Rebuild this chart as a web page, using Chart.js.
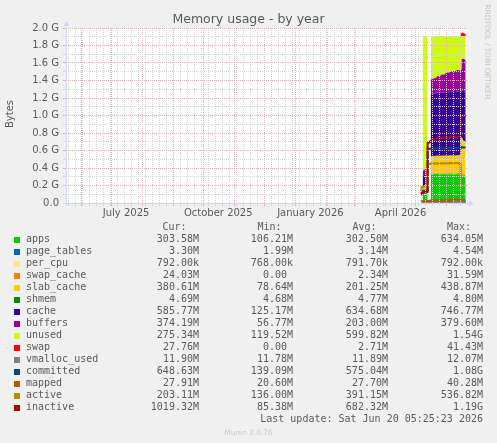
<!DOCTYPE html>
<html>
<head>
<meta charset="utf-8">
<script src="https://cdn.jsdelivr.net/npm/chart.js@4.4.1/dist/chart.umd.min.js"></script>
<style>
  html, body { margin: 0; padding: 0; background: #f0f0f0; }
  #wrap { position: relative; width: 497px; height: 443px; overflow: hidden; font-family: 'DejaVu Sans', sans-serif; color: #5a5a5a; }
  #chartBox { position: absolute; left: 0; top: 0; width: 497px; height: 222px; }
  .title { position: absolute; left: 0; top: 11px; width: 497px; text-align: center; font-size: 12.5px; line-height: 15px; }
  .vlabel { position: absolute; left: -20px; top: 107px; width: 60px; height: 14px; line-height: 14px; text-align: center; font-size: 10px; transform: rotate(-90deg); }
  .watermark { position: absolute; left: 437px; top: 47px; width: 100px; height: 10px; line-height: 10px; text-align: center; font-size: 7.4px; color: #c4c4c4; transform: rotate(90deg); white-space: nowrap; }
  .munin { position: absolute; left: 0; width: 497px; top: 428px; text-align: center; font-size: 7.4px; color: #cccccc; }
  .cell { position: absolute; white-space: pre; font-family: 'DejaVu Sans Mono', monospace; font-size: 10px; line-height: 12px; height: 12px; }
  .swatch { position: absolute; width: 6px; height: 6px; left: 14px; }
</style>
</head>
<body>
<div id="wrap">
  <div id="chartBox"><canvas id="memChart" width="497" height="222"></canvas></div>
  <div class="title">Memory usage - by year</div>
  <div class="vlabel">Bytes</div>
  <div class="watermark">RRDTOOL / TOBI OETIKER</div>
  <div id="legend"></div>
  <div class="munin">Munin 2.0.76</div>
</div>
<script>
// x = days since 2025-05-17, y = GiB
const days = [355, 356, 357, 358, 359, 360, 361, 362, 363, 364,
  365, 366, 367, 368, 369, 370, 371, 372, 373, 374,
  375, 376, 377, 378, 379, 380, 381, 382, 383, 384,
  385, 386, 387, 388, 389, 390, 391, 392, 393, 394,
  395, 396, 397, 398, 399];

// stacked areas
const apps = [null, 0.104, 0.105, 0.107, 0.109, 0.111, 0.114, null, null,
  0.325, 0.33, 0.33, 0.332, 0.33, 0.328, 0.33, 0.333, 0.33, 0.331,
  0.33, 0.329, 0.33, 0.332, 0.33, 0.33, 0.331, 0.33, 0.328, 0.33,
  0.332, 0.33, 0.33, 0.331, 0.33, 0.329, 0.33, 0.33, 0.331, 0.33, 0.326,
  0.305, 0.3, 0.298, 0.297, 0.2965];
const pageTables = [null, 0.0019, 0.002, 0.002, 0.0021, 0.0022, 0.0023, null, null,
  0.0031, 0.0031, 0.0032, 0.0032, 0.0032, 0.0033, 0.0033, 0.0033, 0.0033, 0.0033,
  0.0033, 0.0033, 0.0034, 0.0034, 0.0034, 0.0034, 0.0034, 0.0034, 0.0033, 0.0033,
  0.0033, 0.0033, 0.0033, 0.0034, 0.0034, 0.0034, 0.0033, 0.0033, 0.0033, 0.0033, 0.0033,
  0.0035, 0.0034, 0.0033, 0.0033, 0.0032];
const perCpu = [null, 0.00073, 0.00075, 0.00075, 0.00075, 0.00075, 0.00075, null, null,
  0.00076, 0.00076, 0.00076, 0.00076, 0.00076, 0.00076, 0.00076, 0.00076, 0.00076, 0.00076,
  0.00076, 0.00076, 0.00076, 0.00076, 0.00076, 0.00076, 0.00076, 0.00076, 0.00076, 0.00076,
  0.00076, 0.00076, 0.00076, 0.00076, 0.00076, 0.00076, 0.00076, 0.00076, 0.00076, 0.00076, 0.00076,
  0.00076, 0.00076, 0.00076, 0.00076, 0.00076];
const swapCache = [null, 0, 0, 0, 0, 0, 0, null, null,
  0, 0, 0, 0, 0, 0, 0, 0, 0, 0,
  0, 0, 0, 0, 0, 0, 0, 0, 0, 0,
  0, 0, 0, 0, 0, 0, 0, 0, 0, 0, 0,
  0.028, 0.031, 0.027, 0.025, 0.0235];
const slabCache = [null, 0.077, 0.078, 0.079, 0.081, 0.083, 0.085, null, null,
  0.195, 0.196, 0.198, 0.2, 0.199, 0.201, 0.2, 0.202, 0.203, 0.2,
  0.201, 0.203, 0.204, 0.202, 0.2, 0.203, 0.205, 0.204, 0.203, 0.206,
  0.205, 0.204, 0.206, 0.207, 0.205, 0.204, 0.206, 0.208, 0.207, 0.206, 0.22,
  0.42, 0.4, 0.38, 0.375, 0.3717];
const shmem = [null, 0.0046, 0.0046, 0.0046, 0.0046, 0.0046, 0.0046, null, null,
  0.0046, 0.0046, 0.0046, 0.0046, 0.0046, 0.0046, 0.0046, 0.0046, 0.0046, 0.0046,
  0.0046, 0.0046, 0.0046, 0.0046, 0.0046, 0.0046, 0.0046, 0.0046, 0.0046, 0.0046,
  0.0046, 0.0046, 0.0046, 0.0046, 0.0046, 0.0046, 0.0046, 0.0046, 0.0046, 0.0046, 0.0046,
  0.0046, 0.0046, 0.0046, 0.0046, 0.0046];
const cache = [null, 0.122, 0.124, 0.126, 0.128, 0.131, 0.134, null, null,
  0.712, 0.714, 0.716, 0.712, 0.71, 0.714, 0.717, 0.72, 0.718, 0.716,
  0.72, 0.722, 0.724, 0.72, 0.718, 0.721, 0.724, 0.727, 0.725, 0.722,
  0.726, 0.727, 0.729, 0.726, 0.724, 0.726, 0.728, 0.729, 0.727, 0.724, 0.716,
  0.5, 0.55, 0.565, 0.57, 0.572];
const buffers = [null, 0.055, 0.056, 0.058, 0.06, 0.062, 0.064, null, null,
  0.16, 0.163, 0.167, 0.17, 0.174, 0.177, 0.18, 0.184, 0.188, 0.192,
  0.195, 0.199, 0.203, 0.207, 0.211, 0.215, 0.219, 0.223, 0.225, 0.228,
  0.23, 0.232, 0.234, 0.236, 0.238, 0.24, 0.242, 0.244, 0.246, 0.248, 0.25,
  0.26, 0.355, 0.37, 0.368, 0.3654];
const unused = [null, 1.541, 1.536, 1.529, 1.521, 1.512, 1.502, null, null,
  0.506, 0.495, 0.487, 0.484, 0.485, 0.478, 0.471, 0.459, 0.459, 0.459,
  0.452, 0.445, 0.437, 0.437, 0.439, 0.429, 0.419, 0.414, 0.417, 0.412,
  0.405, 0.405, 0.399, 0.398, 0.401, 0.399, 0.392, 0.387, 0.387, 0.39, 0.386,
  0.385, 0.262, 0.258, 0.263, 0.2689];
const swap = [null, 0, 0, 0, 0, 0, 0, null, null,
  0, 0, 0, 0, 0, 0, 0, 0, 0, 0,
  0, 0, 0, 0, 0, 0, 0, 0, 0, 0,
  0, 0, 0, 0, 0, 0, 0, 0, 0, 0, 0,
  0.03, 0.0405, 0.035, 0.03, 0.0271];

// lines
const vmallocUsed = [0.0115, 0.0115, 0.0115, 0.0116, 0.0116, 0.0116, 0.0116, 0.0116, 0.0116,
  0.0116, 0.0116, 0.0116, 0.0116, 0.0116, 0.0116, 0.0116, 0.0116, 0.0116, 0.0116,
  0.0116, 0.0116, 0.0116, 0.0116, 0.0116, 0.0116, 0.0116, 0.0116, 0.0116, 0.0116,
  0.0116, 0.0116, 0.0116, 0.0116, 0.0116, 0.0116, 0.0116, 0.0117, 0.0117, 0.0117, 0.0117,
  0.0117, 0.0117, 0.0116, 0.0116, 0.0116];
const committed = [0.136, 0.137, 0.138, 0.139, 0.14, 0.141, 0.142, 0.62, 0.62,
  0.62, 0.621, 0.622, 0.62, 0.623, 0.624, 0.622, 0.625, 0.624, 0.623,
  0.625, 0.626, 0.624, 0.625, 0.626, 0.627, 0.625, 0.626, 0.627, 0.628,
  0.626, 0.627, 0.628, 0.627, 0.629, 0.628, 0.627, 0.629, 0.63, 0.628, 0.63,
  0.64, 0.635, 0.634, 0.633, 0.6334];
const mapped = [0.0201, 0.021, 0.021, 0.0212, 0.0213, 0.0215, 0.022, 0.025, 0.026,
  0.027, 0.027, 0.0272, 0.027, 0.0271, 0.0272, 0.027, 0.0271, 0.027, 0.0272,
  0.027, 0.0271, 0.0272, 0.027, 0.0271, 0.027, 0.0272, 0.027, 0.0271, 0.027,
  0.027, 0.038, 0.0385, 0.039, 0.0392, 0.0393, 0.039, 0.0388, 0.0386, 0.0385, 0.038,
  0.03, 0.028, 0.0275, 0.0273, 0.0273];
const active = [0.133, 0.18, 0.183, 0.185, 0.186, 0.187, 0.44, 0.445, 0.447,
  0.448, 0.45, 0.452, 0.45, 0.449, 0.451, 0.453, 0.452, 0.45, 0.451,
  0.453, 0.454, 0.452, 0.451, 0.453, 0.455, 0.454, 0.452, 0.453, 0.455,
  0.456, 0.454, 0.453, 0.455, 0.456, 0.455, 0.454, 0.456, 0.457, 0.455, 0.45,
  0.21, 0.2, 0.199, 0.198, 0.1983];
const inactive = [0.085, 0.115, 0.118, 0.12, 0.122, 0.125, 0.128, 0.69, 0.695,
  0.7, 0.708, 0.715, 0.72, 0.725, 0.73, 0.733, 0.736, 0.738, 0.74,
  0.742, 0.743, 0.745, 0.746, 0.747, 0.748, 0.748, 0.749, 0.75, 0.75,
  0.751, 0.752, 0.752, 0.753, 0.754, 0.755, 0.756, 0.757, 0.758, 0.759, 0.76,
  0.99, 0.993, 0.995, 0.996, 0.9954];

// legend table
const names = ['apps', 'page_tables', 'per_cpu', 'swap_cache', 'slab_cache', 'shmem', 'cache', 'buffers',
  'unused', 'swap', 'vmalloc_used', 'committed', 'mapped', 'active', 'inactive'];
const colors = ['#00CC00', '#0066B3', '#FFE680', '#FF8000', '#FFCC00', '#008F00', '#330099', '#990099',
  '#CCFF00', '#FF0000', '#808080', '#00487D', '#B35A00', '#B38F00', '#B30000'];
const curText = ['303.58M', '3.30M', '792.00k', '24.03M', '380.61M', '4.69M', '585.77M', '374.19M',
  '275.34M', '27.76M', '11.90M', '648.63M', '27.91M', '203.11M', '1019.32M'];
const minText = ['106.21M', '1.99M', '768.00k', '0.00 ', '78.64M', '4.68M', '125.17M', '56.77M',
  '119.52M', '0.00 ', '11.78M', '139.09M', '20.60M', '136.00M', '85.38M'];
const avgText = ['302.50M', '3.14M', '791.70k', '2.34M', '201.25M', '4.77M', '634.68M', '203.00M',
  '599.82M', '2.71M', '11.89M', '575.04M', '27.70M', '391.15M', '682.32M'];
const maxText = ['634.05M', '4.54M', '792.00k', '31.59M', '438.87M', '4.80M', '746.77M', '379.60M',
  '1.54G', '41.43M', '12.07M', '1.08G', '40.28M', '536.82M', '1.19G'];

// axis ticks
const startUtc = Date.UTC(2025, 4, 17);
const dayOf = (y, m, d) => Math.round((Date.UTC(y, m - 1, d) - startUtc) / 86400000);
const monthStarts = [[2025, 6], [2025, 7], [2025, 8], [2025, 9], [2025, 10], [2025, 11], [2025, 12],
  [2026, 1], [2026, 2], [2026, 3], [2026, 4], [2026, 5], [2026, 6]];
const xLabels = [['July 2025', 2025, 7, 16], ['October 2025', 2025, 10, 16],
  ['January 2026', 2026, 1, 16], ['April 2026', 2026, 4, 16]];
const yTicks = [0, 0.1, 0.2, 0.3, 0.4, 0.5, 0.6, 0.7, 0.8, 0.9, 1.0,
  1.1, 1.2, 1.3, 1.4, 1.5, 1.6, 1.7, 1.8, 1.9, 2.0];
const yLabels = ['0.0', '', '0.2 G', '', '0.4 G', '', '0.6 G', '', '0.8 G', '', '1.0 G',
  '', '1.2 G', '', '1.4 G', '', '1.6 G', '', '1.8 G', '', '2.0 G'];

const majorGrid = '#eab0b0';
const minorGrid = '#d6d6d6';
const axisColor = '#CFD6F8';
const hidden = 'rgba(0,0,0,0)';

// x tick list: weekly minor lines, monthly major lines, mid-month labels
const xKind = new Map();
for (let d = dayOf(2025, 5, 19); d < 400; d += 7) xKind.set(d, 'minor');
monthStarts.forEach(([y, m]) => xKind.set(dayOf(y, m, 1), 'major'));
const xText = new Map();
xLabels.forEach(([t, y, m, d]) => { const v = dayOf(y, m, d); xText.set(v, t); if (!xKind.has(v)) xKind.set(v, 'label'); });
const xTickVals = [...xKind.keys()].sort((a, b) => a - b);

const gridColorX = c => {
  const k = c.tick ? xKind.get(c.tick.value) : null;
  return k === 'major' ? majorGrid : k === 'minor' ? minorGrid : hidden;
};
const gridColorY = c => (c.index % 2 === 0 ? majorGrid : minorGrid);

const pts = arr => days.map((d, i) => ({ x: d, y: arr[i] }));

const areaSeries = [apps, pageTables, perCpu, swapCache, slabCache, shmem, cache, buffers, unused, swap];
const lineSeries = [vmallocUsed, committed, mapped, active, inactive];

const datasets = [];
areaSeries.forEach((arr, i) => {
  datasets.push({
    label: names[i],
    data: pts(arr),
    stack: 'mem',
    fill: i === 0 ? 'origin' : '-1',
    backgroundColor: colors[i],
    borderWidth: 0,
    pointRadius: 0,
    stepped: 'after',
    spanGaps: false
  });
});
lineSeries.forEach((arr, j) => {
  const i = areaSeries.length + j;
  datasets.push({
    label: names[i],
    data: pts(arr),
    stack: 'line' + j,
    fill: false,
    borderColor: colors[i],
    borderWidth: 2,
    pointRadius: 0,
    stepped: 'after',
    order: -1 - j
  });
});

const canvasBg = {
  id: 'canvasBg',
  beforeDraw(chart) {
    const { ctx, chartArea: a } = chart;
    ctx.save();
    ctx.fillStyle = '#ffffff';
    ctx.fillRect(a.left, a.top, a.right - a.left, a.bottom - a.top);
    ctx.restore();
  }
};

const axisArrows = {
  id: 'axisArrows',
  afterDraw(chart) {
    const { ctx, chartArea: a } = chart;
    const x0 = a.left + 0.5, y0 = a.bottom + 0.5;
    ctx.save();
    ctx.strokeStyle = axisColor;
    ctx.fillStyle = axisColor;
    ctx.lineWidth = 1;
    ctx.beginPath();
    ctx.moveTo(a.left - 3, y0); ctx.lineTo(a.right + 3, y0);
    ctx.moveTo(x0, a.bottom + 3); ctx.lineTo(x0, a.top - 3);
    ctx.stroke();
    ctx.beginPath();
    ctx.moveTo(a.right + 7, y0); ctx.lineTo(a.right + 2, y0 - 3); ctx.lineTo(a.right + 2, y0 + 3); ctx.closePath();
    ctx.moveTo(x0, a.top - 7); ctx.lineTo(x0 - 3, a.top - 2); ctx.lineTo(x0 + 3, a.top - 2); ctx.closePath();
    ctx.fill();
    ctx.restore();
  }
};

const tickFont = { family: "'DejaVu Sans', sans-serif", size: 10 };

new Chart(document.getElementById('memChart').getContext('2d'), {
  type: 'line',
  data: { datasets },
  options: {
    responsive: false,
    animation: false,
    devicePixelRatio: 1,
    layout: { padding: { top: 28, right: 30, bottom: 0, left: 0 } },
    plugins: { legend: { display: false }, tooltip: { enabled: false }, title: { display: false } },
    scales: {
      x: {
        type: 'linear',
        min: 0,
        max: 400.3,
        afterBuildTicks: s => { s.ticks = xTickVals.map(v => ({ value: v })); },
        afterFit: s => { s.height = 19; },
        grid: { color: gridColorX, tickColor: gridColorX, tickLength: 3, lineWidth: 1, z: 1 },
        border: { display: false, dash: [1, 1] },
        ticks: {
          autoSkip: false, maxRotation: 0, minRotation: 0, padding: 1,
          color: '#5a5a5a', font: tickFont,
          callback: v => xText.get(v) || ''
        }
      },
      y: {
        type: 'linear',
        stacked: true,
        min: 0,
        max: 2.0,
        afterBuildTicks: s => { s.ticks = yTicks.map(v => ({ value: v })); },
        afterFit: s => { s.width = 66; },
        grid: { color: gridColorY, tickColor: gridColorY, tickLength: 3, lineWidth: 1, z: 1 },
        border: { display: false, dash: [1, 1] },
        ticks: {
          autoSkip: false, padding: 4,
          color: '#5a5a5a', font: tickFont,
          callback: (v, i) => yLabels[i]
        }
      }
    }
  },
  plugins: [canvasBg, axisArrows]
});

// legend / stats table
const legend = document.getElementById('legend');
const cell = (text, left, right, center) => {
  const el = document.createElement('div');
  el.className = 'cell';
  el.textContent = text;
  el.style.top = (center - 6) + 'px';
  if (right != null) { el.style.right = (497 - right) + 'px'; el.style.textAlign = 'right'; }
  else el.style.left = left + 'px';
  legend.appendChild(el);
};
cell('Cur:', 162.5, null, 227);
cell('Min:', 257.5, null, 227);
cell('Avg:', 352.5, null, 227);
cell('Max:', 447, null, 227);
names.forEach((n, i) => {
  const cy = 239 + i * 12;
  const sw = document.createElement('div');
  sw.className = 'swatch';
  sw.style.top = (cy - 2) + 'px';
  sw.style.background = colors[i];
  legend.appendChild(sw);
  cell(n, 26, null, cy);
  cell(curText[i], null, 199, cy);
  cell(minText[i], null, 293, cy);
  cell(avgText[i], null, 388, cy);
  cell(maxText[i], null, 483, cy);
});
cell('Last update: Sat Jun 20 05:25:23 2026', null, 483, 419);
</script>
</body>
</html>
